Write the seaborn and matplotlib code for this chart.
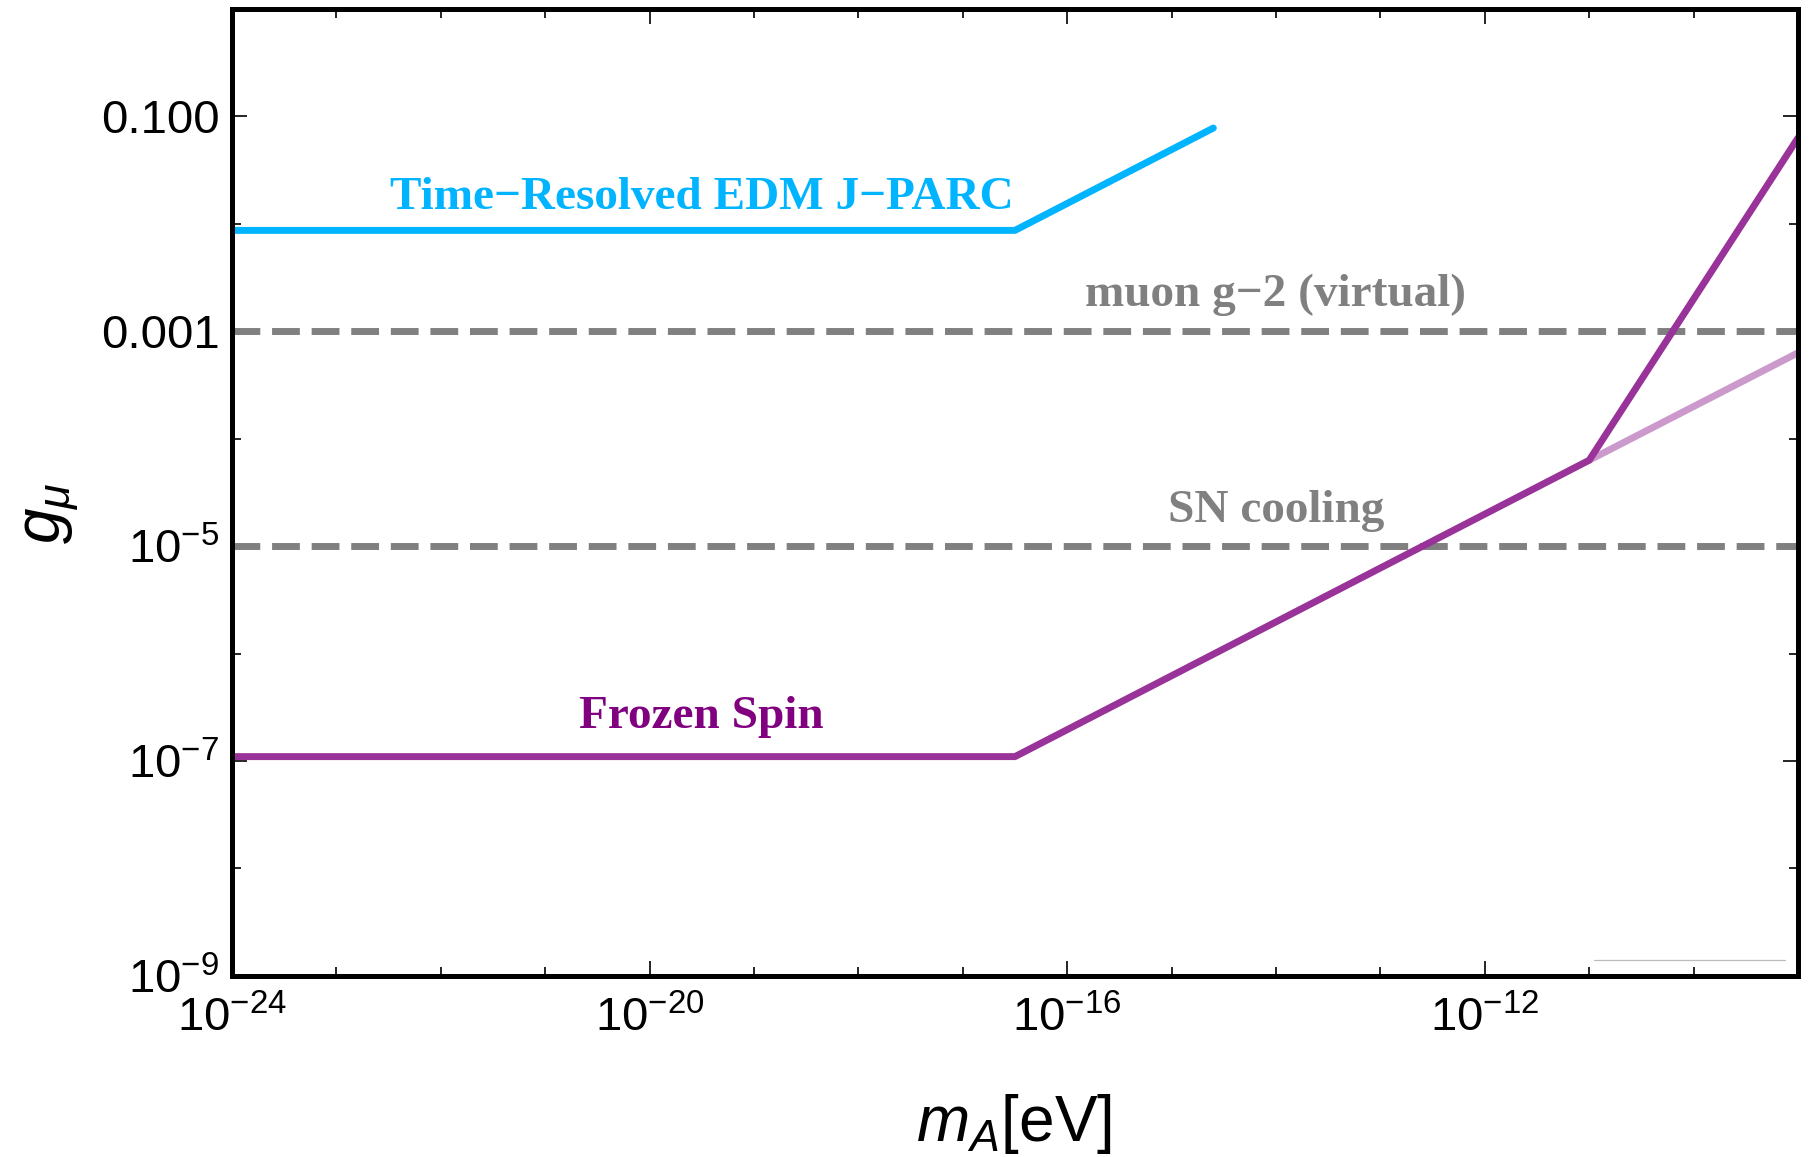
import numpy as np
import pandas as pd
import matplotlib
matplotlib.use("Agg")
import matplotlib.pyplot as plt
import seaborn as sns
from matplotlib.ticker import FixedLocator, FixedFormatter, NullFormatter

# ---------------- data ----------------
edm_x = [1e-24, 10**-16.5, 10**-14.6]
edm_y = [8.7e-3, 8.7e-3, 0.078]

frozen_x = [1e-24, 10**-16.5, 1e-11, 1e-9]
frozen_y = [1.1e-7, 1.1e-7, 10**-4.2, 10**-1.2]

frozen_ext_x = [1e-11, 1e-9]
frozen_ext_y = [10**-4.2, 10**-3.2]

g2_y = 1e-3
sn_y = 1e-5
limit_x = [1e-24, 1e-9]

faint_x = [10**-10.95, 10**-9.12]
faint_y = [1.4e-9, 1.4e-9]

xmajor = [1e-24, 1e-20, 1e-16, 1e-12]
xmajor_labels = [r"$10^{-24}$", r"$10^{-20}$", r"$10^{-16}$", r"$10^{-12}$"]
xminor = [10.0**k for k in range(-24, -8)]
ymajor = [1e-1, 1e-3, 1e-5, 1e-7, 1e-9]
ymajor_labels = ["0.100", "0.001", r"$10^{-5}$", r"$10^{-7}$", r"$10^{-9}$"]
yminor = [10.0**k for k in range(-9, 1)]

labels = {
    "edm": ("Time\u2212Resolved EDM J\u2212PARC", 10**-19.5, 10**-1.76),
    "g2": ("muon g\u22122 (virtual)", 10**-14.0, 10**-2.66),
    "sn": ("SN cooling", 10**-14.0, 10**-4.67),
    "fs": ("Frozen Spin", 10**-19.5, 10**-6.59),
}

# ---------------- style ----------------
sns.set_theme(style="ticks")
plt.rcParams["font.family"] = ["Liberation Sans", "DejaVu Sans"]
plt.rcParams["mathtext.fontset"] = "custom"
plt.rcParams["mathtext.rm"] = "Liberation Sans"
plt.rcParams["mathtext.it"] = "Liberation Sans:italic"
plt.rcParams["mathtext.bf"] = "Liberation Sans:bold"
plt.rcParams["text.color"] = "black"
plt.rcParams["axes.labelcolor"] = "black"
plt.rcParams["xtick.color"] = "black"
plt.rcParams["ytick.color"] = "black"

CYAN = "#00B4FF"
PURPLE = "#993399"
LIGHT_PURPLE = "#CC99CC"
DARK_PURPLE = "#800080"
GRAY = "#808080"

fig = plt.figure(figsize=(18.11, 11.57), dpi=100)
ax = fig.add_axes([0.1281, 0.1565, 0.8647, 0.8357])

lw = 5.0
dash = (0, (20.0 / lw, 8.5 / lw))

sns.lineplot(x=limit_x, y=[g2_y, g2_y], ax=ax, color=GRAY, lw=lw, linestyle=dash)
sns.lineplot(x=limit_x, y=[sn_y, sn_y], ax=ax, color=GRAY, lw=lw, linestyle=dash)
sns.lineplot(x=frozen_ext_x, y=frozen_ext_y, ax=ax, color=LIGHT_PURPLE, lw=lw)
sns.lineplot(x=frozen_x, y=frozen_y, ax=ax, color=PURPLE, lw=lw)
sns.lineplot(x=edm_x, y=edm_y, ax=ax, color=CYAN, lw=lw)
sns.lineplot(x=faint_x, y=faint_y, ax=ax, color="#BBBBBB", lw=0.9)

ax.set_xscale("log")
ax.set_yscale("log")
ax.set_xlim(1e-24, 1e-9)
ax.set_ylim(1e-9, 1.0)

ax.xaxis.set_major_locator(FixedLocator(xmajor))
ax.xaxis.set_major_formatter(FixedFormatter(xmajor_labels))
ax.xaxis.set_minor_locator(FixedLocator([v for v in xminor if v not in xmajor]))
ax.xaxis.set_minor_formatter(NullFormatter())
ax.yaxis.set_major_locator(FixedLocator(ymajor))
ax.yaxis.set_major_formatter(FixedFormatter(ymajor_labels))
ax.yaxis.set_minor_locator(FixedLocator([v for v in yminor if v not in ymajor]))
ax.yaxis.set_minor_formatter(NullFormatter())

ax.tick_params(which="both", direction="in", top=True, right=True,
               color="black", labelcolor="black", width=1.2)
ax.tick_params(which="major", length=11, labelsize=34, pad=9)
ax.tick_params(which="minor", length=6.5)
ax.tick_params(axis="x", which="major", pad=15)

for s in ax.spines.values():
    s.set_linewidth(3.6)
    s.set_color("black")
    s.set_visible(True)

ax.set_xlabel(r"$m_A$[eV]", fontsize=46, color="black")
ax.set_ylabel(r"$g_\mu$", fontsize=46, color="black")
ax.xaxis.set_label_coords(0.499, -0.12)
ax.yaxis.set_label_coords(-0.097, 0.478)

serif = ["Liberation Serif", "DejaVu Serif"]
txt_colors = {"edm": CYAN, "g2": GRAY, "sn": GRAY, "fs": DARK_PURPLE}
for key, (t, xx, yy) in labels.items():
    ax.text(xx, yy, t, color=txt_colors[key], fontsize=34, fontweight="bold",
            family=serif, ha="center", va="center")

fig.savefig("out.png", dpi=100, facecolor="white")
